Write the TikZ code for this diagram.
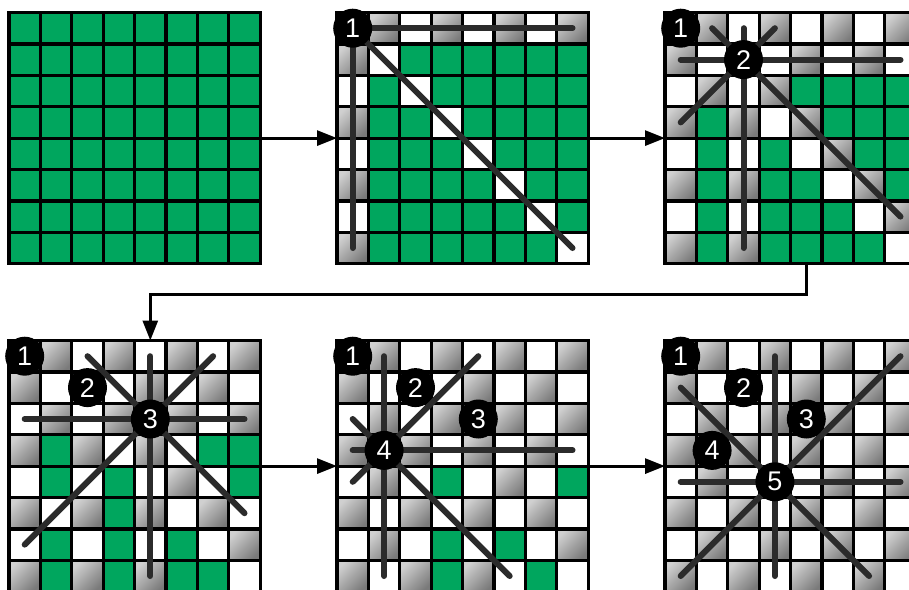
\documentclass[tikz,border=0pt]{standalone}
\usepackage{fontspec}
\setmainfont{Liberation Sans}
\usetikzlibrary{arrows.meta}
\definecolor{qgreen}{RGB}{0,166,94}
\definecolor{qline}{RGB}{43,43,43}
\definecolor{glight}{RGB}{208,208,208}
\definecolor{gdark}{RGB}{122,122,122}
\tikzset{
  gcell/.style={fill=qgreen},
  wcell/.style={fill=white},
  scell/.style={shading=axis, top color=glight, bottom color=gdark, shading angle=45},
  gridln/.style={draw=black, line width=3.2pt},
  attack/.style={draw=qline, line width=6pt, line cap=round},
  queen/.style={circle, fill=black, text=white, minimum size=39pt, inner sep=0pt, font=\fontsize{27}{27}\selectfont},
  boardbox/.style={minimum width=251.2pt, minimum height=251.2pt, inner sep=0pt, outer sep=0pt, anchor=north west},
  arr/.style={draw=black, line width=3pt, -{Triangle[length=20pt,width=15pt]}},
}
\newcommand\qboard[4]{%
 \begin{scope}[shift={(#2,#3)}]
  \foreach \ri in {0,...,7}{\foreach \ci in {0,...,7}{%
    \gdef\qatt{0}%
    \foreach \qr/\qc in {#4}{%
      \pgfmathtruncatemacro\qhit{or(or(\ri==\qr,\ci==\qc),or(\ri-\ci==\qr-\qc,\ri+\ci==\qr+\qc))}%
      \ifnum\qhit=1 \gdef\qatt{1}\fi}%
    \pgfmathtruncatemacro\qpar{mod(\ri+\ci,2)}%
    \ifnum\qatt=0
      \path[gcell] ({\ci*31.4},{\ri*31.4}) rectangle ({(\ci+1)*31.4},{(\ri+1)*31.4});
    \else\ifnum\qpar=1
      \path[scell] ({\ci*31.4},{\ri*31.4}) rectangle ({(\ci+1)*31.4},{(\ri+1)*31.4});
    \else
      \path[wcell] ({\ci*31.4},{\ri*31.4}) rectangle ({(\ci+1)*31.4},{(\ri+1)*31.4});
    \fi\fi
  }}
  \foreach \i in {1,...,7}{\draw[gridln] ({\i*31.4},0) -- ({\i*31.4},251.2); \draw[gridln] (0,{\i*31.4}) -- (251.2,{\i*31.4});}
  \draw[gridln] (0,0) rectangle (251.2,251.2);
 \end{scope}
 \node[boardbox] (#1) at (#2,#3) {};
}
\newcommand\qlines[4]{%
 \begin{scope}[shift={(#1,#2)}]
  \pgfmathsetmacro\qa{min(#3,#4)}\pgfmathsetmacro\qb{min(7-#3,7-#4)}%
  \pgfmathsetmacro\qaa{min(#3,7-#4)}\pgfmathsetmacro\qbb{min(7-#3,#4)}%
  \draw[attack] (15.7,{(#3+.5)*31.4}) -- (235.5,{(#3+.5)*31.4});
  \draw[attack] ({(#4+.5)*31.4},15.7) -- ({(#4+.5)*31.4},235.5);
  \draw[attack] ({(#4-\qa+.5)*31.4},{(#3-\qa+.5)*31.4}) -- ({(#4+\qb+.5)*31.4},{(#3+\qb+.5)*31.4});
  \draw[attack] ({(#4+\qaa+.5)*31.4},{(#3-\qaa+.5)*31.4}) -- ({(#4-\qbb+.5)*31.4},{(#3+\qbb+.5)*31.4});
 \end{scope}}
\newcommand\qcircs[4]{%
 \foreach \qr/\qc [count=\k] in {#4}{\node[queen] (#1q\k) at ({#2+(\qc+.5)*31.4},{#3+(\qr+.5)*31.4}) {\k};}}
\begin{document}
\begin{tikzpicture}[x=1pt,y=-1pt]
\useasboundingbox (0,0) rectangle (909,589);
\clip (0,0) rectangle (909,589);
\fill[white] (0,0) rectangle (909,589);
% boards
\qboard{b1}{9}{12.5}{20/40}
\qboard{b2}{337}{12.5}{0/0}
\qboard{b3}{665}{12.5}{0/0,1/2}
\qboard{b4}{9}{340.5}{0/0,1/2,2/4}
\qboard{b5}{337}{340.5}{0/0,1/2,2/4,3/1}
\qboard{b6}{665}{340.5}{0/0,1/2,2/4,3/1,4/3}
% attack lines of the newest queen
\qlines{337}{12.5}{0}{0}
\qlines{665}{12.5}{1}{2}
\qlines{9}{340.5}{2}{4}
\qlines{337}{340.5}{3}{1}
\qlines{665}{340.5}{4}{3}
% queens
\qcircs{b2}{337}{12.5}{0/0}
\qcircs{b3}{665}{12.5}{0/0,1/2}
\qcircs{b4}{9}{340.5}{0/0,1/2,2/4}
\qcircs{b5}{337}{340.5}{0/0,1/2,2/4,3/1}
\qcircs{b6}{665}{340.5}{0/0,1/2,2/4,3/1,4/3}
% arrows
\draw[arr] (b1.east) -- (b2.west);
\draw[arr] (b2.east) -- (b3.west);
\draw[arr] ([xshift=15.7pt]b3.south) -- ++(0,30.3) -| ([xshift=15.7pt]b4.north);
\draw[arr] (b4.east) -- (b5.west);
\draw[arr] (b5.east) -- (b6.west);
\end{tikzpicture}
\end{document}
